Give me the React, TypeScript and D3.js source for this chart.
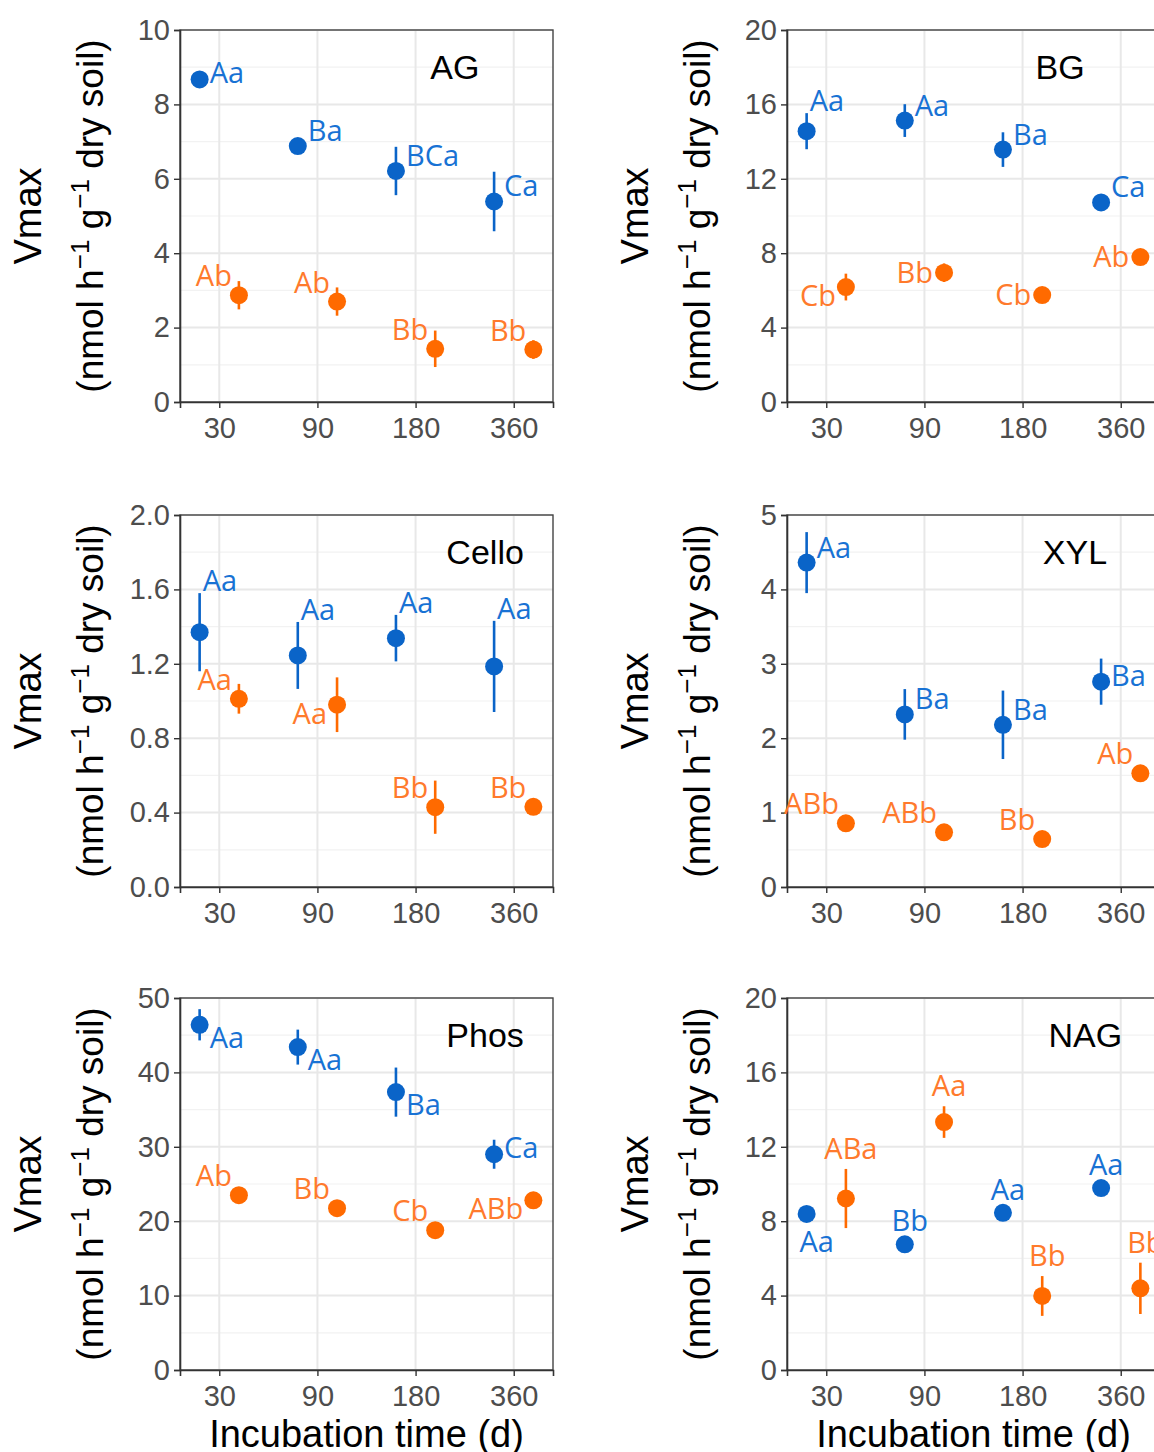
import { useRef, useEffect } from "react";
import * as d3 from "d3";

const days = ["30", "90", "180", "360"];

// AG
const agBlue = [8.67, 6.88, 6.21, 5.39];
const agBlueSe = [0.12, 0.15, 0.65, 0.8];
const agOrange = [2.87, 2.7, 1.43, 1.41];
const agOrangeSe = [0.38, 0.38, 0.49, 0.25];
const agBlueLab = ["Aa", "Ba", "BCa", "Ca"];
const agOrangeLab = ["Ab", "Ab", "Bb", "Bb"];

// BG
const bgBlue = [14.56, 15.13, 13.57, 10.73];
const bgBlueSe = [0.97, 0.88, 0.93, 0.2];
const bgOrange = [6.18, 6.95, 5.75, 7.79];
const bgOrangeSe = [0.72, 0.5, 0.2, 0.2];
const bgBlueLab = ["Aa", "Aa", "Ba", "Ca"];
const bgOrangeLab = ["Cb", "Bb", "Cb", "Ab"];

// Cello
const celloBlue = [1.37, 1.245, 1.338, 1.186];
const celloBlueSe = [0.21, 0.18, 0.125, 0.245];
const celloOrange = [1.012, 0.98, 0.429, 0.431];
const celloOrangeSe = [0.08, 0.147, 0.143, 0.03];
const celloBlueLab = ["Aa", "Aa", "Aa", "Aa"];
const celloOrangeLab = ["Aa", "Aa", "Bb", "Bb"];

// XYL
const xylBlue = [4.36, 2.32, 2.18, 2.76];
const xylBlueSe = [0.41, 0.34, 0.46, 0.31];
const xylOrange = [0.856, 0.735, 0.645, 1.528];
const xylOrangeSe = [0.05, 0.05, 0.05, 0.05];
const xylBlueLab = ["Aa", "Ba", "Ba", "Ba"];
const xylOrangeLab = ["ABb", "ABb", "Bb", "Ab"];

// Phos
const phosBlue = [46.4, 43.4, 37.35, 29.0];
const phosBlueSe = [2.1, 2.35, 3.3, 1.95];
const phosOrange = [23.5, 21.75, 18.8, 22.8];
const phosOrangeSe = [0.5, 0.5, 0.5, 0.5];
const phosBlueLab = ["Aa", "Aa", "Ba", "Ca"];
const phosOrangeLab = ["Ab", "Bb", "Cb", "ABb"];

// NAG
const nagBlue = [8.39, 6.76, 8.45, 9.78];
const nagBlueSe = [0.15, 0.15, 0.15, 0.15];
const nagOrange = [9.22, 13.33, 3.98, 4.39];
const nagOrangeSe = [1.59, 0.85, 1.07, 1.38];
const nagBlueLab = ["Aa", "Bb", "Aa", "Aa"];
const nagOrangeLab = ["ABa", "Aa", "Bb", "Bb"];

// where each letter label sits around its point (compass codes)
const agBluePlace = ["e", "ne", "ne", "ne"];
const agOrangePlace = ["nw", "nw", "nw", "nw"];
const bgBluePlace = ["nb", "ne", "ne", "ne"];
const bgOrangePlace = ["sw", "w", "w", "w"];
const celloBluePlace = ["nb", "nb", "nb", "nb"];
const celloOrangePlace = ["nw", "sw", "nw", "nw"];
const xylBluePlace = ["ne", "ne", "ne", "e"];
const xylOrangePlace = ["nw", "nw", "nw", "nw"];
const phosBluePlace = ["se", "se", "se", "e"];
const phosOrangePlace = ["nw", "nw", "nw", "sw"];
const nagBluePlace = ["s", "n", "n", "n"];
const nagOrangePlace = ["n", "n", "n", "n"];

const BLUE = "#0a64c8";
const ORANGE = "#ff6a00";
const BLUE_TXT = "#1872d4";
const ORANGE_TXT = "#ff7a2c";

const W = 1154;
const H = 1452;
const PW = 373;
const PH = 372;
const COL_X = [180, 787];
const ROW_Y = [30, 515, 998];
const AX_FONT = "'Liberation Sans', Arial, sans-serif";
const LAB_FONT = "'Open Sans', sans-serif";

const panels = [
  { name: "AG", max: 10, step: 2, fmt: "d", col: 0, row: 0, tx: 0.737,
    blue: agBlue, blueSe: agBlueSe, blueLab: agBlueLab, bluePlace: agBluePlace,
    orange: agOrange, orangeSe: agOrangeSe, orangeLab: agOrangeLab, orangePlace: agOrangePlace },
  { name: "BG", max: 20, step: 4, fmt: "d", col: 1, row: 0, tx: 0.732,
    blue: bgBlue, blueSe: bgBlueSe, blueLab: bgBlueLab, bluePlace: bgBluePlace,
    orange: bgOrange, orangeSe: bgOrangeSe, orangeLab: bgOrangeLab, orangePlace: bgOrangePlace },
  { name: "Cello", max: 2, step: 0.4, fmt: ".1f", col: 0, row: 1, tx: 0.818,
    blue: celloBlue, blueSe: celloBlueSe, blueLab: celloBlueLab, bluePlace: celloBluePlace,
    orange: celloOrange, orangeSe: celloOrangeSe, orangeLab: celloOrangeLab, orangePlace: celloOrangePlace },
  { name: "XYL", max: 5, step: 1, fmt: "d", col: 1, row: 1, tx: 0.772,
    blue: xylBlue, blueSe: xylBlueSe, blueLab: xylBlueLab, bluePlace: xylBluePlace,
    orange: xylOrange, orangeSe: xylOrangeSe, orangeLab: xylOrangeLab, orangePlace: xylOrangePlace },
  { name: "Phos", max: 50, step: 10, fmt: "d", col: 0, row: 2, tx: 0.818,
    blue: phosBlue, blueSe: phosBlueSe, blueLab: phosBlueLab, bluePlace: phosBluePlace,
    orange: phosOrange, orangeSe: phosOrangeSe, orangeLab: phosOrangeLab, orangePlace: phosOrangePlace },
  { name: "NAG", max: 20, step: 4, fmt: "d", col: 1, row: 2, tx: 0.8,
    blue: nagBlue, blueSe: nagBlueSe, blueLab: nagBlueLab, bluePlace: nagBluePlace,
    orange: nagOrange, orangeSe: nagOrangeSe, orangeLab: nagOrangeLab, orangePlace: nagOrangePlace },
];

// label anchor from placement code; returns x, text centre y, anchor
function place(code: string, px: number, py: number, top: number) {
  switch (code) {
    case "e": return { x: px + 10, cy: py - 6, a: "start" };
    case "ne": return { x: px + 10, cy: py - 15, a: "start" };
    case "nb": return { x: px + 3, cy: top - 12, a: "start" };
    case "se": return { x: px + 10, cy: py + 13, a: "start" };
    case "nw": return { x: px - 7, cy: py - 19, a: "end" };
    case "w": return { x: px - 11, cy: py, a: "end" };
    case "sw": return { x: px - 10, cy: py + 9, a: "end" };
    case "n": return { x: px + 5, cy: top - 20, a: "middle" };
    case "s": return { x: px + 10, cy: py + 28, a: "middle" };
    default: return { x: px, cy: py, a: "middle" };
  }
}

function drawPanel(svg: any, p: any) {
  const x0 = COL_X[p.col];
  const y0 = ROW_Y[p.row];
  const g = svg.append("g").attr("transform", `translate(${x0},${y0})`);

  const x = d3.scalePoint().domain(days).range([0, PW]).padding(0.4);
  const y = d3.scaleLinear().domain([0, p.max]).range([PH, 0]);
  const dodge = x.step() * 0.2;

  const majors = d3.range(0, p.max + p.step / 2, p.step);
  const minors = d3.range(p.step / 2, p.max, p.step);

  // grid
  g.selectAll(".minor").data(minors).join("line")
    .attr("x1", 0).attr("x2", PW)
    .attr("y1", (d: number) => y(d)).attr("y2", (d: number) => y(d))
    .attr("stroke", "#f2f2f2").attr("stroke-width", 1.2);
  g.selectAll(".major").data(majors).join("line")
    .attr("x1", 0).attr("x2", PW)
    .attr("y1", (d: number) => y(d)).attr("y2", (d: number) => y(d))
    .attr("stroke", "#e8e8e8").attr("stroke-width", 2);
  g.selectAll(".vgrid").data(days).join("line")
    .attr("x1", (d: string) => x(d)).attr("x2", (d: string) => x(d))
    .attr("y1", 0).attr("y2", PH)
    .attr("stroke", "#e8e8e8").attr("stroke-width", 2);

  g.append("rect").attr("width", PW).attr("height", PH)
    .attr("fill", "none").attr("stroke", "#444").attr("stroke-width", 1.4);

  // axes
  const fmt = d3.format(p.fmt);
  const yAxis = d3.axisLeft(y).tickValues(majors).tickSize(6).tickPadding(4)
    .tickFormat((d: any) => fmt(d));
  const gy = g.append("g").call(yAxis);
  const xAxis = d3.axisBottom(x).tickSize(6).tickPadding(9);
  const gx = g.append("g").attr("transform", `translate(0,${PH})`).call(xAxis);
  [gx, gy].forEach((a) => {
    a.select(".domain").attr("stroke", "#333").attr("stroke-width", 1.6);
    a.selectAll(".tick line").attr("stroke", "#333").attr("stroke-width", 1.4);
    a.selectAll(".tick text").attr("fill", "#4d4d4d")
      .style("font-family", AX_FONT).style("font-size", "29px");
  });

  // series
  const series = [
    { v: p.blue, se: p.blueSe, lab: p.blueLab, pl: p.bluePlace, off: -dodge, c: BLUE, tc: BLUE_TXT },
    { v: p.orange, se: p.orangeSe, lab: p.orangeLab, pl: p.orangePlace, off: dodge, c: ORANGE, tc: ORANGE_TXT },
  ];
  series.forEach((s) => {
    const rows = days.map((d, i) => ({ d, v: s.v[i], se: s.se[i], lab: s.lab[i], pl: s.pl[i] }));
    g.append("g").selectAll("line").data(rows).join("line")
      .attr("x1", (r: any) => x(r.d)! + s.off).attr("x2", (r: any) => x(r.d)! + s.off)
      .attr("y1", (r: any) => y(r.v + r.se)).attr("y2", (r: any) => y(r.v - r.se))
      .attr("stroke", s.c).attr("stroke-width", 2.6);
    g.append("g").selectAll("circle").data(rows).join("circle")
      .attr("cx", (r: any) => x(r.d)! + s.off).attr("cy", (r: any) => y(r.v))
      .attr("r", 9).attr("fill", s.c);
    g.append("g").selectAll("text").data(rows).join("text")
      .each(function (this: any, r: any) {
        const pos = place(r.pl, x(r.d)! + s.off, y(r.v), y(r.v + r.se));
        d3.select(this).attr("x", pos.x).attr("y", pos.cy + 10)
          .attr("text-anchor", pos.a);
      })
      .attr("fill", s.tc)
      .style("font-family", LAB_FONT).style("font-size", "29px")
      .text((r: any) => r.lab);
  });

  // panel title
  g.append("text")
    .attr("x", p.tx * PW).attr("y", y(p.max * 0.9) + 12)
    .attr("text-anchor", "middle").attr("fill", "#000")
    .style("font-family", AX_FONT).style("font-size", "34px")
    .text(p.name);

  // y title
  const yt = svg.append("g");
  yt.append("text")
    .attr("transform", `translate(${x0 - 139},${y0 + PH / 2}) rotate(-90)`)
    .attr("text-anchor", "middle").attr("fill", "#000")
    .style("font-family", AX_FONT).style("font-size", "38px")
    .text("Vmax");
  const t2 = yt.append("text")
    .attr("transform", `translate(${x0 - 77},${y0 + PH / 2}) rotate(-90)`)
    .attr("text-anchor", "middle").attr("fill", "#000")
    .style("font-family", AX_FONT).style("font-size", "37px");
  t2.append("tspan").text("(nmol h");
  t2.append("tspan").attr("dy", -14).style("font-size", "26px").text("\u22121");
  t2.append("tspan").attr("dy", 14).text(" g");
  t2.append("tspan").attr("dy", -14).style("font-size", "26px").text("\u22121");
  t2.append("tspan").attr("dy", 14).text(" dry soil)");

  if (p.row === 2) {
    svg.append("text")
      .attr("x", x0 + PW / 2).attr("y", 1447)
      .attr("text-anchor", "middle").attr("fill", "#000")
      .style("font-family", AX_FONT).style("font-size", "38px")
      .text("Incubation time (d)");
  }
}

export default function App() {
  const svgRef = useRef<SVGSVGElement>(null);

  useEffect(() => {
    const svg = d3.select(svgRef.current);
    svg.selectAll("*").remove();
    svg.append("rect").attr("width", W).attr("height", H).attr("fill", "#fff");
    panels.forEach((p) => drawPanel(svg, p));
  }, []);

  return (
    <svg
      ref={svgRef}
      width={W}
      height={H}
      style={{ position: "absolute", left: 0, top: 0, display: "block" }}
    />
  );
}
